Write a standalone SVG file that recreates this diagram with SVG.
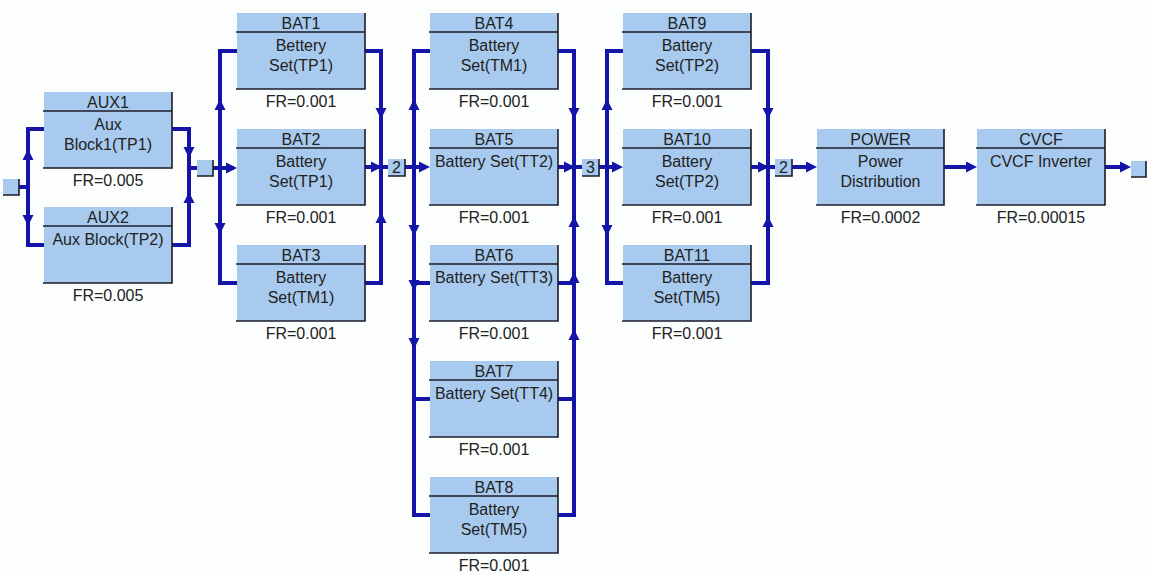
<svg xmlns="http://www.w3.org/2000/svg" xmlns:xlink="http://www.w3.org/1999/xlink" width="1151" height="575" viewBox="0 0 1151 575">
<style>
.bg{fill:#fcfdfd}
.box{fill:#a8caee}
.edge{fill:none;stroke:#1c1c2a;stroke-width:1.6}
.t{font-family:"Liberation Sans",Arial,sans-serif;font-size:16px;fill:#222;text-anchor:middle}
.w{fill:none;stroke:#1414a8;stroke-width:4;stroke-linejoin:miter;stroke-linecap:square}
.ah{fill:#1414a8}
</style>
<defs>
<path id="ad" d="M-5.5,-5L5.5,-5L0,6Z"/>
<path id="au" d="M-5.5,5L5.5,5L0,-6Z"/>
<path id="ar" d="M-6,-5.5L-6,5.5L5,0Z"/>
</defs>
<rect class="bg" x="0" y="0" width="1151" height="575"/>

<g id="connectors">
<path class="w" d="M19,187H28 M44,129H28V245H44"/>
<path class="w" d="M172,129H189V245H172 M189,168H197"/>
<path class="w" d="M213,168H232 M237,51H220V283H237"/>
<path class="w" d="M365,51H381V283H365 M365,167H388"/>
<path class="w" d="M405,167H424 M430,51H414V515H430 M414,283H430 M414,399H430"/>
<path class="w" d="M558,51H574V515H558 M558,283H574 M558,399H574 M558,167H582"/>
<path class="w" d="M599,167H617 M623,51H607V283H623"/>
<path class="w" d="M751,51H768V283H751 M751,167H775"/>
<path class="w" d="M792,167H811 M944,167H971 M1105,167H1125"/>
<g class="ah">
<use href="#au" x="28" y="155"/><use href="#ad" x="28" y="220"/>
<use href="#ad" x="189" y="152"/><use href="#au" x="189" y="198"/>
<use href="#au" x="220" y="105"/><use href="#ad" x="220" y="228"/><use href="#ar" x="232" y="168"/>
<use href="#ad" x="381" y="113"/><use href="#au" x="381" y="218"/><use href="#ar" x="377" y="167"/>
<use href="#au" x="414" y="105"/><use href="#ad" x="414" y="230"/><use href="#ad" x="414" y="285"/><use href="#ad" x="414" y="343"/><use href="#ar" x="425" y="167"/>
<use href="#ad" x="574" y="113"/><use href="#au" x="574" y="222"/><use href="#au" x="574" y="278"/><use href="#au" x="574" y="335"/><use href="#ar" x="570" y="167"/>
<use href="#au" x="607" y="105"/><use href="#ad" x="607" y="230"/><use href="#ar" x="618" y="167"/>
<use href="#ad" x="768" y="113"/><use href="#au" x="768" y="222"/><use href="#ar" x="764" y="167"/>
<use href="#ar" x="812" y="167"/><use href="#ar" x="972" y="167"/><use href="#ar" x="1126" y="167"/>
</g>
</g>

<g id="start"><rect class="box" x="3" y="179" width="16" height="16"/><path class="edge" d="M19,179V195H3"/></g>
<g id="j1"><rect class="box" x="197" y="160" width="16" height="16"/><path class="edge" d="M213,160V176H197"/></g>
<g id="k1"><rect class="box" x="388" y="159" width="17" height="17"/><path class="edge" d="M405,159V176H388"/><text class="t" x="396.5" y="173">2</text></g>
<g id="k2"><rect class="box" x="582" y="159" width="17" height="17"/><path class="edge" d="M599,159V176H582"/><text class="t" x="590.5" y="173">3</text></g>
<g id="k3"><rect class="box" x="775" y="159" width="17" height="17"/><path class="edge" d="M792,159V176H775"/><text class="t" x="783.5" y="173">2</text></g>
<g id="end"><rect class="box" x="1131" y="161" width="15" height="16"/><path class="edge" d="M1146,161V177H1131"/></g>

<g id="aux1" transform="translate(44,92)"><rect class="box" width="128" height="76"/><path class="edge" d="M-1,19H128M128,0V76H-1"/><text class="t" x="64" y="16">AUX1</text><text class="t" x="64" y="38">Aux</text><text class="t" x="64" y="58">Block1(TP1)</text><text class="t" x="64" y="94">FR=0.005</text></g>
<g id="aux2" transform="translate(44,207)"><rect class="box" width="128" height="76"/><path class="edge" d="M-1,19H128M128,0V76H-1"/><text class="t" x="64" y="16">AUX2</text><text class="t" x="64" y="38">Aux Block(TP2)</text><text class="t" x="64" y="94">FR=0.005</text></g>

<g id="bat1" transform="translate(237,13)"><rect class="box" width="128" height="76"/><path class="edge" d="M-1,19H128M128,0V76H-1"/><text class="t" x="64" y="16">BAT1</text><text class="t" x="64" y="38">Bettery</text><text class="t" x="64" y="58">Set(TP1)</text><text class="t" x="64" y="94">FR=0.001</text></g>
<g id="bat2" transform="translate(237,129)"><rect class="box" width="128" height="76"/><path class="edge" d="M-1,19H128M128,0V76H-1"/><text class="t" x="64" y="16">BAT2</text><text class="t" x="64" y="38">Battery</text><text class="t" x="64" y="58">Set(TP1)</text><text class="t" x="64" y="94">FR=0.001</text></g>
<g id="bat3" transform="translate(237,245)"><rect class="box" width="128" height="76"/><path class="edge" d="M-1,19H128M128,0V76H-1"/><text class="t" x="64" y="16">BAT3</text><text class="t" x="64" y="38">Battery</text><text class="t" x="64" y="58">Set(TM1)</text><text class="t" x="64" y="94">FR=0.001</text></g>

<g id="bat4" transform="translate(430,13)"><rect class="box" width="128" height="76"/><path class="edge" d="M-1,19H128M128,0V76H-1"/><text class="t" x="64" y="16">BAT4</text><text class="t" x="64" y="38">Battery</text><text class="t" x="64" y="58">Set(TM1)</text><text class="t" x="64" y="94">FR=0.001</text></g>
<g id="bat5" transform="translate(430,129)"><rect class="box" width="128" height="76"/><path class="edge" d="M-1,19H128M128,0V76H-1"/><text class="t" x="64" y="16">BAT5</text><text class="t" x="64" y="38">Battery Set(TT2)</text><text class="t" x="64" y="94">FR=0.001</text></g>
<g id="bat6" transform="translate(430,245)"><rect class="box" width="128" height="76"/><path class="edge" d="M-1,19H128M128,0V76H-1"/><text class="t" x="64" y="16">BAT6</text><text class="t" x="64" y="38">Battery Set(TT3)</text><text class="t" x="64" y="94">FR=0.001</text></g>
<g id="bat7" transform="translate(430,361)"><rect class="box" width="128" height="76"/><path class="edge" d="M-1,19H128M128,0V76H-1"/><text class="t" x="64" y="16">BAT7</text><text class="t" x="64" y="38">Battery Set(TT4)</text><text class="t" x="64" y="94">FR=0.001</text></g>
<g id="bat8" transform="translate(430,477)"><rect class="box" width="128" height="76"/><path class="edge" d="M-1,19H128M128,0V76H-1"/><text class="t" x="64" y="16">BAT8</text><text class="t" x="64" y="38">Battery</text><text class="t" x="64" y="58">Set(TM5)</text><text class="t" x="64" y="94">FR=0.001</text></g>

<g id="bat9" transform="translate(623,13)"><rect class="box" width="128" height="76"/><path class="edge" d="M-1,19H128M128,0V76H-1"/><text class="t" x="64" y="16">BAT9</text><text class="t" x="64" y="38">Battery</text><text class="t" x="64" y="58">Set(TP2)</text><text class="t" x="64" y="94">FR=0.001</text></g>
<g id="bat10" transform="translate(623,129)"><rect class="box" width="128" height="76"/><path class="edge" d="M-1,19H128M128,0V76H-1"/><text class="t" x="64" y="16">BAT10</text><text class="t" x="64" y="38">Battery</text><text class="t" x="64" y="58">Set(TP2)</text><text class="t" x="64" y="94">FR=0.001</text></g>
<g id="bat11" transform="translate(623,245)"><rect class="box" width="128" height="76"/><path class="edge" d="M-1,19H128M128,0V76H-1"/><text class="t" x="64" y="16">BAT11</text><text class="t" x="64" y="38">Battery</text><text class="t" x="64" y="58">Set(TM5)</text><text class="t" x="64" y="94">FR=0.001</text></g>

<g id="power" transform="translate(817,129)"><rect class="box" width="127" height="76"/><path class="edge" d="M-1,19H127M127,0V76H-1"/><text class="t" x="63.5" y="16">POWER</text><text class="t" x="63.5" y="38">Power</text><text class="t" x="63.5" y="58">Distribution</text><text class="t" x="63.5" y="94">FR=0.0002</text></g>
<g id="cvcf" transform="translate(977,129)"><rect class="box" width="128" height="76"/><path class="edge" d="M-1,19H128M128,0V76H-1"/><text class="t" x="64" y="16">CVCF</text><text class="t" x="64" y="38">CVCF Inverter</text><text class="t" x="64" y="94">FR=0.00015</text></g>
</svg>
